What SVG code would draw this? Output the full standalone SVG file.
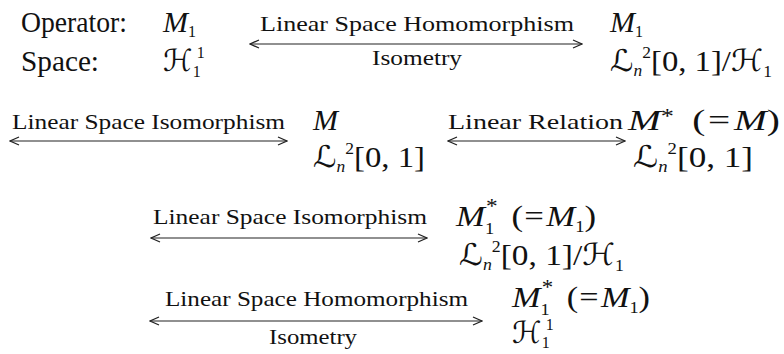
<svg xmlns="http://www.w3.org/2000/svg" width="784" height="354" viewBox="0 0 784 354">
<style>
.t{fill:#111}
.main{font-size:30px}
.lab{font-size:22px}
.it{font-style:italic}
.sc{font-family:"DejaVu Serif","DejaVu Sans",serif;font-style:italic}
.sm{font-size:16px}
.st{font-size:20px}
.arr{stroke:#222;stroke-width:1.2;fill:none;marker-start:url(#ah);marker-end:url(#ah)}
</style>
<defs>
<marker id="ah" viewBox="-11 -6 12 12" refX="0" refY="0" markerWidth="12" markerHeight="12" markerUnits="userSpaceOnUse" orient="auto-start-reverse">
<path d="M-9,-4 L0,0 L-9,4" fill="none" stroke="#222" stroke-width="1.3"/>
</marker>
</defs>
<rect width="784" height="354" fill="#fff"/>
<g font-family="Liberation Serif, DejaVu Serif, Times New Roman, serif">
<g id="header-operator"><text class="t main" x="21" y="32" textLength="106" lengthAdjust="spacingAndGlyphs">Operator:</text></g>
<g id="header-space"><text class="t main" x="21" y="71" textLength="78" lengthAdjust="spacingAndGlyphs">Space:</text></g>
<g id="node-left">
<text class="t main" x="163" y="32"><tspan class="it">M</tspan><tspan class="sm" y="37">1</tspan></text>
<text class="t main" x="163" y="71"><tspan class="sc">ℋ</tspan><tspan class="sm" y="77">1</tspan><tspan class="sm" dx="-4" y="58">1</tspan></text>
</g>
<g id="node-top-right">
<text class="t main" x="610" y="32"><tspan class="it">M</tspan><tspan class="sm" y="37">1</tspan></text>
<text class="t main" x="610" y="71" textLength="162" lengthAdjust="spacingAndGlyphs"><tspan class="sc">ℒ</tspan><tspan class="sm it" y="76">n</tspan><tspan class="sm" y="58">2</tspan><tspan y="71">[0, 1]/</tspan><tspan class="sc">ℋ</tspan><tspan class="sm" y="77">1</tspan></text>
</g>
<g id="node-mid">
<text class="t main" x="313" y="130"><tspan class="it">M</tspan></text>
<text class="t main" x="313" y="167" textLength="112" lengthAdjust="spacingAndGlyphs"><tspan class="sc">ℒ</tspan><tspan class="sm it" y="172">n</tspan><tspan class="sm" y="154">2</tspan><tspan y="167">[0, 1]</tspan></text>
</g>
<g id="node-mid-right">
<text class="t main" x="628" y="130" textLength="152" lengthAdjust="spacingAndGlyphs"><tspan class="it">M</tspan><tspan class="st" y="123">*</tspan><tspan y="130" dx="14">(</tspan><tspan dx="2">=</tspan><tspan class="it" dx="3">M</tspan><tspan>)</tspan></text>
<text class="t main" x="633" y="167" textLength="120" lengthAdjust="spacingAndGlyphs"><tspan class="sc">ℒ</tspan><tspan class="sm it" y="172">n</tspan><tspan class="sm" y="154">2</tspan><tspan y="167">[0, 1]</tspan></text>
</g>
<g id="node-row3">
<text class="t main" x="456" y="226" textLength="140" lengthAdjust="spacingAndGlyphs"><tspan class="it">M</tspan><tspan class="sm" y="234">1</tspan><tspan class="st" dx="-7" y="213">*</tspan><tspan y="226" dx="12">(</tspan><tspan dx="1">=</tspan><tspan class="it" dx="2">M</tspan><tspan class="sm" y="232">1</tspan><tspan y="226">)</tspan></text>
<text class="t main" x="459" y="265" textLength="165" lengthAdjust="spacingAndGlyphs"><tspan class="sc">ℒ</tspan><tspan class="sm it" y="270">n</tspan><tspan class="sm" y="252">2</tspan><tspan y="265">[0, 1]/</tspan><tspan class="sc">ℋ</tspan><tspan class="sm" y="271">1</tspan></text>
</g>
<g id="node-row4">
<text class="t main" x="512" y="307" textLength="138" lengthAdjust="spacingAndGlyphs"><tspan class="it">M</tspan><tspan class="sm" y="315">1</tspan><tspan class="st" dx="-7" y="294">*</tspan><tspan y="307" dx="12">(</tspan><tspan dx="1">=</tspan><tspan class="it" dx="2">M</tspan><tspan class="sm" y="313">1</tspan><tspan y="307">)</tspan></text>
<text class="t main" x="512" y="343"><tspan class="sc">ℋ</tspan><tspan class="sm" y="348">1</tspan><tspan class="sm" dx="-4" y="330">1</tspan></text>
</g>
<g id="connectors">
<line class="arr" x1="250" y1="44" x2="582" y2="44"/>
<line class="arr" x1="10" y1="141" x2="287" y2="141"/>
<line class="arr" x1="448" y1="141" x2="625" y2="141"/>
<line class="arr" x1="151" y1="238" x2="427" y2="238"/>
<line class="arr" x1="150" y1="321" x2="482" y2="321"/>
<text class="t lab" x="260" y="31" textLength="314" lengthAdjust="spacingAndGlyphs">Linear Space Homomorphism</text>
<text class="t lab" x="372" y="65" textLength="90" lengthAdjust="spacingAndGlyphs">Isometry</text>
<text class="t lab" x="12" y="129" textLength="273" lengthAdjust="spacingAndGlyphs">Linear Space Isomorphism</text>
<text class="t lab" x="448" y="129" textLength="175" lengthAdjust="spacingAndGlyphs">Linear Relation</text>
<text class="t lab" x="153" y="224" textLength="274" lengthAdjust="spacingAndGlyphs">Linear Space Isomorphism</text>
<text class="t lab" x="165" y="306" textLength="303" lengthAdjust="spacingAndGlyphs">Linear Space Homomorphism</text>
<text class="t lab" x="269" y="344" textLength="88" lengthAdjust="spacingAndGlyphs">Isometry</text>
</g>
</g>
</svg>
